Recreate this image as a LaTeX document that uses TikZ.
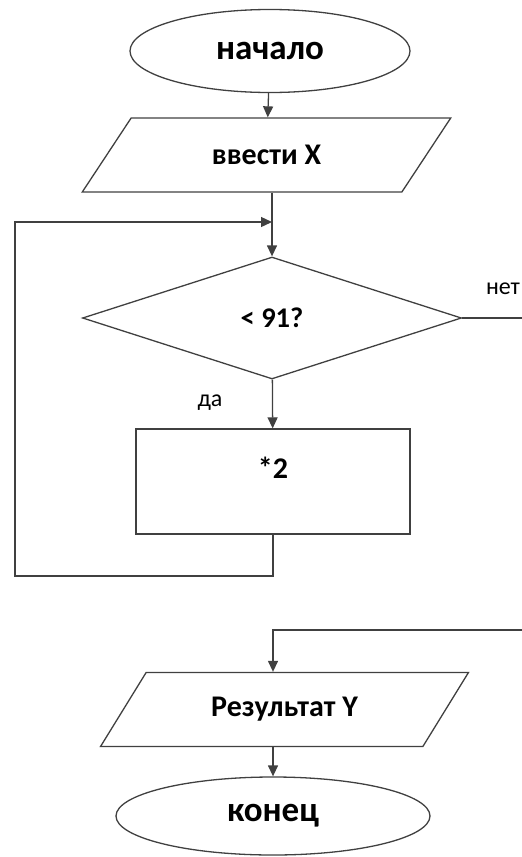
\documentclass[tikz,border=0pt]{standalone}
\usepackage{fontspec}
\setmainfont{Carlito}
\usetikzlibrary{shapes.geometric,arrows.meta}

\tikzset{
  line/.style={draw=black!75, line width=1.3pt},
  arr/.style={line, -{Triangle[length=11pt,width=10pt]}},
  terminal/.style={ellipse, line, inner sep=0pt, font=\bfseries\fontsize{35}{40}\selectfont},
  io/.style={trapezium, trapezium left angle=45, trapezium right angle=135,
    trapezium stretches=true, line, inner sep=0pt,
    minimum width=369pt, minimum height=74pt, font=\bfseries\fontsize{30}{34}\selectfont},
  decision/.style={diamond, line, inner sep=0pt, font=\bfseries\fontsize{28.5}{32}\selectfont},
  procbox/.style={rectangle, line, inner sep=0pt, font=\bfseries\fontsize{30}{34}\selectfont},
  mark label/.style={font=\fontsize{24}{28}\selectfont, inner sep=0pt}
}

\begin{document}
\begin{tikzpicture}[x=1pt, y=-1pt]
    \useasboundingbox (0,0) rectangle (522,857);

    % Start
    \node[terminal, minimum width=280pt, minimum height=83pt] (start) at (270,51) {начало};

    % Input
    \node[io] (inp) at (266.5,155) {ввести X};

    % Condition
    \node[decision, minimum width=379pt, minimum height=122pt] (cond) at (272,318) {< 91?};

    % Body
    \node[procbox, minimum width=274pt, minimum height=105pt,
          text height=49pt, text depth=56pt] (mul) at (273,481.5) {*2};

    % Output and end
    \node[io] (res) at (284.5,709.5) {Результат Y};
    \node[terminal, minimum width=314pt, minimum height=78pt] (stop) at (273,816) {конец};

    % Free ends
    \coordinate (join) at (272,222);
    \coordinate (loopbl) at (15,576);
    \coordinate (noout) at (522,318);
    \coordinate (noin) at (522,630);
    \coordinate (resjoin) at (273,630);

    % Labels
    \node[mark label] (no) at (503,289) {нет};
    \node[mark label] (yes) at (210,403) {да};

    % Connectors
    \draw[arr] (start) -- (inp);
    \draw[arr] (cond.north |- inp.south) -- (cond.north);
    \draw[arr] (cond) -- (mul);
    \draw[line] (cond.east) -- (noout);
    \draw[arr] (mul.south) |- (loopbl) |- (join);
    \draw[arr] (noin) -- (resjoin) -- (resjoin |- res.north);
    \draw[arr] (stop.north |- res.south) -- (stop.north);
\end{tikzpicture}
\end{document}
